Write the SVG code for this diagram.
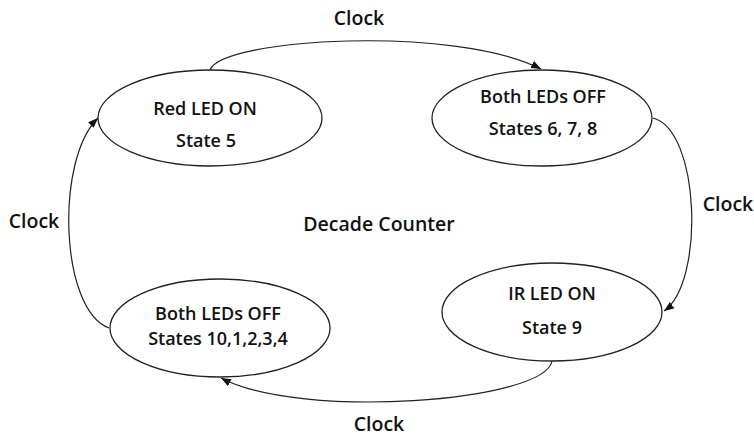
<svg xmlns="http://www.w3.org/2000/svg" width="754" height="437" viewBox="0 0 754 437">
  <style>
    .state { fill: #ffffff; stroke: #222; stroke-width: 1.3; }
    .lbl { font-family: "Open Sans", "Liberation Sans", sans-serif; font-weight: 600; font-size: 18px; fill: #111; text-anchor: middle; }
    .big { font-size: 19.5px; }
    .edge { fill: none; stroke: #222; stroke-width: 1.2; marker-end: url(#arrow); }
  </style>
  <defs>
    <marker id="arrow" markerWidth="10" markerHeight="8" refX="10" refY="4" orient="auto" markerUnits="userSpaceOnUse">
      <path d="M0,0 L10,4 L0,8 Z" fill="#111"/>
    </marker>
  </defs>
  <rect width="754" height="437" fill="#ffffff"/>

  <g id="connectors">
    <path class="edge" d="M210,70 C222,38 455,25 541,69"/>
    <path class="edge" d="M653,118 C700,130 705,282 664,311"/>
    <path class="edge" d="M552,361 C545,402 300,420 221,378"/>
    <path class="edge" d="M109,328 C60,310 55,160 98,118"/>
    <text class="lbl big" x="359" y="25">Clock</text>
    <text class="lbl big" x="728" y="211">Clock</text>
    <text class="lbl big" x="379" y="431">Clock</text>
    <text class="lbl big" x="34" y="228">Clock</text>
  </g>

  <g id="red-led-on">
    <ellipse class="state" cx="210" cy="118" rx="112" ry="48"/>
    <text class="lbl" x="205" y="115">Red LED ON</text>
    <text class="lbl" x="206" y="147">State 5</text>
  </g>

  <g id="both-off-6-8">
    <ellipse class="state" cx="542" cy="118" rx="110" ry="48"/>
    <text class="lbl" x="543" y="103">Both LEDs OFF</text>
    <text class="lbl" x="543" y="135">States 6, 7, 8</text>
  </g>

  <g id="ir-led-on">
    <ellipse class="state" cx="552" cy="312" rx="110" ry="49"/>
    <text class="lbl" x="552" y="300">IR LED ON</text>
    <text class="lbl" x="552" y="334">State 9</text>
  </g>

  <g id="both-off-10-4">
    <ellipse class="state" cx="220" cy="328" rx="110" ry="49"/>
    <text class="lbl" x="218" y="320">Both LEDs OFF</text>
    <text class="lbl" x="218" y="345">States 10,1,2,3,4</text>
  </g>

  <g id="title">
    <text class="lbl big" x="379" y="231">Decade Counter</text>
  </g>
</svg>
